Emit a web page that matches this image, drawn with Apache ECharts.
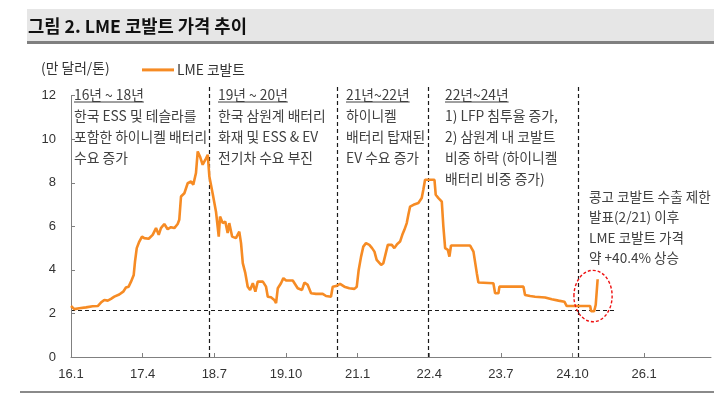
<!DOCTYPE html>
<html><head><meta charset="utf-8">
<script src="https://cdn.jsdelivr.net/npm/echarts@6/dist/echarts.min.js"></script>
<style>html,body{margin:0;padding:0;background:#fff}#c{width:714px;height:394px}</style>
</head><body><div id="c"></div>
<script>
const titleText = '그림 2. LME 코발트 가격 추이';
const unitText = '(만 달러/톤)';
const seriesName = 'LME 코발트';
const tickLabels = ['16.1','17.4','18.7','19.10','21.1','22.4','23.7','24.10','26.1'];
const yTicks = [0,2,4,6,8,10,12];
const dates = ['2016-01-01','2016-01-22','2016-02-23','2016-04-05','2016-05-17','2016-06-19','2016-07-09','2016-07-30','2016-08-22','2016-09-12','2016-10-03','2016-11-04','2016-11-29','2016-12-16','2017-01-03','2017-01-18','2017-02-05','2017-02-13','2017-02-24','2017-03-10','2017-03-27','2017-04-11','2017-05-09','2017-06-04','2017-06-25','2017-07-12','2017-07-26','2017-08-17','2017-09-08','2017-09-29','2017-10-20','2017-11-11','2017-11-21','2017-12-02','2017-12-23','2018-01-14','2018-02-05','2018-02-19','2018-03-06','2018-03-17','2018-04-01','2018-04-18','2018-05-05','2018-05-20','2018-05-30','2018-06-21','2018-07-12','2018-07-29','2018-08-07','2018-08-24','2018-09-10','2018-09-25','2018-10-05','2018-10-23','2018-10-31','2018-11-17','2018-12-08','2018-12-19','2018-12-30','2019-01-16','2019-02-01','2019-02-16','2019-03-03','2019-03-19','2019-04-04','2019-05-06','2019-05-26','2019-06-07','2019-06-27','2019-07-18','2019-07-29','2019-08-10','2019-08-30','2019-09-15','2019-10-02','2019-11-14','2019-12-15','2019-12-25','2020-01-12','2020-01-27','2020-02-18','2020-03-09','2020-04-10','2020-05-22','2020-06-13','2020-07-14','2020-07-25','2020-08-16','2020-09-11','2020-10-08','2020-11-09','2020-12-11','2020-12-26','2021-01-08','2021-01-23','2021-02-07','2021-02-24','2021-03-15','2021-04-02','2021-04-17','2021-05-01','2021-05-29','2021-06-13','2021-06-26','2021-07-11','2021-07-19','2021-08-06','2021-08-22','2021-09-09','2021-09-28','2021-10-12','2021-10-25','2021-11-10','2021-11-20','2021-12-01','2021-12-22','2022-01-23','2022-02-14','2022-02-24','2022-03-05','2022-05-04','2022-05-12','2022-05-29','2022-06-20','2022-06-30','2022-07-11','2022-07-28','2022-08-08','2022-08-18','2022-12-18','2023-01-09','2023-01-19','2023-01-30','2023-02-10','2023-05-14','2023-05-25','2023-06-16','2023-06-22','2023-11-23','2023-12-03','2024-01-05','2024-02-06','2024-04-09','2024-05-21','2024-07-03','2024-08-10','2024-08-25','2025-01-22','2025-01-28','2025-02-17','2025-02-27','2025-03-09'];
const prices = [2.34,2.20,2.24,2.28,2.33,2.34,2.50,2.62,2.59,2.67,2.77,2.87,3.00,3.19,3.23,3.46,3.77,4.38,5.00,5.30,5.53,5.46,5.43,5.61,5.92,5.61,5.92,6.11,5.87,5.96,5.92,6.11,6.30,7.37,7.52,7.98,8.06,7.91,8.45,9.44,9.21,8.83,9.06,9.29,8.29,7.50,6.66,5.53,6.45,6.15,6.22,5.69,6.15,5.53,5.46,5.46,5.76,5.23,4.31,3.85,3.23,3.08,3.39,3.00,3.46,3.46,3.23,2.77,2.74,2.62,2.47,3.16,3.39,3.62,3.51,3.51,3.16,3.16,3.08,3.42,3.31,2.93,2.90,2.90,2.80,2.77,3.23,3.26,3.36,3.23,3.16,3.13,3.23,4.00,4.61,5.07,5.23,5.15,5.00,4.84,4.46,4.23,4.31,4.70,5.15,5.23,5.15,5.00,5.18,5.30,5.61,5.84,6.15,6.53,6.91,6.99,7.07,7.30,7.68,8.14,8.14,7.45,7.30,7.14,5.99,5.00,4.92,4.61,5.12,5.12,4.84,4.84,3.85,3.42,3.39,2.93,2.93,3.23,3.23,2.85,2.80,2.77,2.73,2.65,2.59,2.54,2.34,2.34,2.10,2.10,2.40,3.57];
const dividerDates = ['2018-06-01','2020-08-25','2022-03-28','2024-11-07'];
const baselineValue = 2.17;
const baselineEnd = '2025-07-01';
const notes = [
  ['16년 ~ 18년','한국 ESS 및 테슬라를','포함한 하이니켈 배터리','수요 증가'],
  ['19년 ~ 20년','한국 삼원계 배터리','화재 및 ESS & EV','전기차 수요 부진'],
  ['21년~22년','하이니켈','배터리 탑재된','EV 수요 증가'],
  ['22년~24년','1) LFP 침투율 증가,','2) 삼원계 내 코발트','비중 하락 (하이니켈','배터리 비중 증가)']
];
const spikeNote = ['콩고 코발트 수출 제한','발표(2/21) 이후','LME 코발트 가격','약 +40.4% 상승'];

function toMonth(s){const p=s.split('-').map(Number);return (p[0]-2016)*12+(p[1]-1)+((p[2]||1)-1)/30;}
function labelToMonth(l){const p=l.split('.').map(Number);return (p[0]-16)*12+(p[1]-1);}
const tickMonths = tickLabels.map(labelToMonth);
const seriesData = dates.map((d,i)=>[toMonth(d),prices[i]]);

const KR = '"Noto Sans CJK KR","Noto Sans",sans-serif';
const NUM = '"Liberation Sans",Arial,sans-serif';
const ORANGE = '#f68b24';
const TXT = '#404040';
const DASH = '#1a1a1a';
const AXIS = '#808080';
const yTop = yTicks[yTicks.length-1];

const chart = echarts.init(document.getElementById('c'));
const markLines = dividerDates.map(d=>[{coord:[toMonth(d),0]},{coord:[toMonth(d),12.4]}]);
markLines.push([{coord:[0,baselineValue]},{coord:[toMonth(baselineEnd),baselineValue]}]);
markLines.push([{coord:[0,0],lineStyle:{color:AXIS,type:'solid',width:1}},{coord:[0,yTop]}]);

chart.setOption({
  animation:false,
  grid:{left:71,right:3,top:87,bottom:37,containLabel:false},
  legend:{data:[{name:seriesName,icon:'rect'}],left:137,top:58,itemWidth:32,itemHeight:3,
    textStyle:{fontFamily:KR,fontSize:13.8,color:'#333',padding:[0,0,0,-2]}},
  xAxis:{type:'value',min:0,max:134,interval:15,
    axisLine:{show:true,lineStyle:{color:AXIS,width:1}},
    axisTick:{show:true,inside:true,length:4,lineStyle:{color:AXIS},customValues:tickMonths},
    axisLabel:{customValues:tickMonths,margin:11,fontFamily:NUM,fontSize:13,color:'#333',
      formatter:v=>{const i=tickMonths.indexOf(Math.round(v));return i>=0?tickLabels[i]:'';}},
    splitLine:{show:false}},
  yAxis:{type:'value',min:0,max:12.4,
    axisLine:{show:false},
    axisTick:{show:true,inside:true,length:4,lineStyle:{color:AXIS},customValues:yTicks},
    axisLabel:{customValues:yTicks,margin:15,fontFamily:NUM,fontSize:13,color:'#333'},
    splitLine:{show:false}},
  series:[{name:seriesName,type:'line',data:seriesData,showSymbol:false,symbol:'none',
    lineStyle:{color:ORANGE,width:2.6},itemStyle:{color:ORANGE},z:5,
    markLine:{silent:true,symbol:'none',label:{show:false},animation:false,precision:4,
      lineStyle:{color:DASH,type:[4,3],width:1.2},data:markLines}}]
});

// annotations
const mctx = document.createElement('canvas').getContext('2d');
function tw(t,f){mctx.font=f;return mctx.measureText(t).width;}
const noteFont = '13.8px '+KR;
const noteX = [74,218,346,445];
const graphics = [
  {type:'rect',shape:{x:27,y:9,width:687,height:32},style:{fill:'#e6e6e6'},silent:true},
  {type:'rect',shape:{x:27,y:41,width:687,height:3},style:{fill:'#7f7f7f'},silent:true},
  {type:'text',x:28,y:26,style:{text:titleText,font:'bold 17.7px '+KR,fill:'#111',verticalAlign:'middle'},silent:true},
  {type:'text',x:41,y:68,style:{text:unitText,font:'13.8px '+KR,fill:'#333',verticalAlign:'middle'},silent:true},
  {type:'rect',shape:{x:20,y:391,width:694,height:2},style:{fill:'#8a8a8a'},silent:true}
];
notes.forEach((lines,i)=>{
  graphics.push({type:'text',x:noteX[i],y:84.5,style:{text:lines.join('\n'),font:noteFont,fill:TXT,lineHeight:21,verticalAlign:'top'},silent:true});
  const w = tw(lines[0],noteFont);
  graphics.push({type:'line',shape:{x1:noteX[i],y1:102,x2:noteX[i]+w,y2:102},style:{stroke:TXT,lineWidth:1},silent:true});
});
graphics.push({type:'text',x:589,y:186.5,style:{text:spikeNote.join('\n'),font:'13.6px '+KR,fill:TXT,lineHeight:20.5,verticalAlign:'top'},silent:true});
const c = chart.convertToPixel({gridIndex:0},[109.3,2.8]);
const e = chart.convertToPixel({gridIndex:0},[109.3+4.0,2.8+1.18]);
graphics.push({type:'ellipse',shape:{cx:c[0],cy:c[1],rx:Math.abs(e[0]-c[0]),ry:Math.abs(c[1]-e[1])},
  style:{fill:'none',stroke:'#ee1111',lineWidth:1.4,lineDash:[3,2]},z:10,silent:true});
chart.setOption({graphic:graphics});
</script></body></html>
